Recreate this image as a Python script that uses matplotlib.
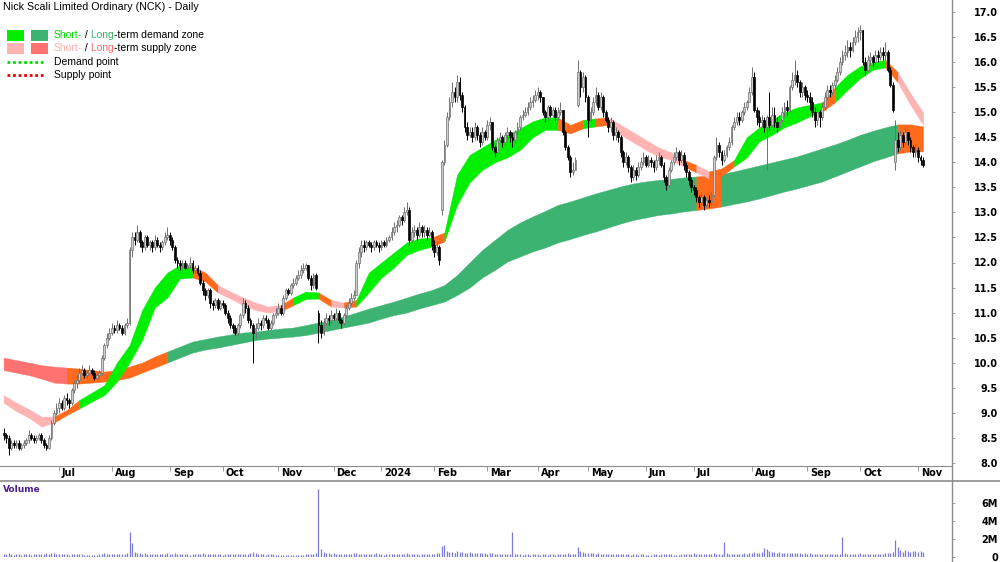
import matplotlib
matplotlib.use("Agg")
import matplotlib.pyplot as plt
from matplotlib.lines import Line2D
from matplotlib.patches import Rectangle
import numpy as np
import pandas as pd

plt.rcParams["font.family"] = ["Liberation Sans", "DejaVu Sans"]

W, H = 1000, 562

# ---- data ------------------------------------------------------------------
holidays = ["2023-06-12", "2023-12-25", "2023-12-26", "2024-01-01", "2024-01-26",
            "2024-03-29", "2024-04-01", "2024-04-25", "2024-06-10"]
dates = pd.bdate_range("2023-05-31", "2024-11-05", freq="C", holidays=holidays)

closes = [
    8.55, 8.5, 8.3, 8.4, 8.35, 8.4, 8.3, 8.35, 8.4, 8.45,
    8.55, 8.5, 8.45, 8.5, 8.55, 8.45, 8.35, 8.3, 8.5, 8.8,
    9.0, 9.1, 9.2, 9.1, 9.3, 9.25, 9.2, 9.45, 9.6, 9.65,
    9.8, 9.85, 9.75, 9.8, 9.85, 9.8, 9.7, 9.75, 9.8, 10.1,
    10.35, 10.5, 10.6, 10.7, 10.65, 10.75, 10.7, 10.6, 10.75, 10.8,
    12.25, 12.5, 12.45, 12.6, 12.4, 12.3, 12.5, 12.35, 12.4, 12.3,
    12.45, 12.35, 12.3, 12.4, 12.5, 12.55, 12.45, 12.3, 12.05, 12.0,
    11.95, 12.0, 11.9, 11.95, 12.0, 11.85, 11.9, 11.8, 11.6, 11.45,
    11.35, 11.45, 11.2, 11.15, 11.25, 11.1, 11.2, 11.15, 11.0, 10.9,
    10.75, 10.7, 10.6, 10.75, 10.95, 11.2, 11.1, 10.85, 10.75, 10.6,
    10.7, 10.8, 10.75, 10.9, 10.85, 10.7, 10.8, 10.95, 11.0, 11.1,
    11.0, 11.3, 11.45, 11.4, 11.55, 11.6, 11.7, 11.75, 11.85, 11.9,
    11.95, 11.7, 11.55, 11.75, 11.5, 10.75, 10.6, 10.8, 10.9, 10.85,
    10.95, 10.9, 11.0, 10.85, 10.8, 10.95, 11.1, 11.2, 11.3, 11.35,
    12.0, 12.2, 12.35, 12.3, 12.4, 12.35, 12.3, 12.4, 12.35, 12.3,
    12.4, 12.35, 12.45, 12.5, 12.6, 12.7, 12.75, 12.9, 12.85, 13.0,
    13.05, 12.45, 12.6, 12.65, 12.55, 12.7, 12.6, 12.65, 12.55, 12.6,
    12.35, 12.2, 12.3, 12.05, 14.0, 14.35, 14.9, 15.2, 15.4, 15.3,
    15.6, 15.35, 15.1, 14.7, 14.55, 14.6, 14.5, 14.7, 14.55, 14.4,
    14.6, 14.5, 14.75, 14.8, 14.3, 14.2, 14.45, 14.5, 14.4, 14.55,
    14.6, 14.5, 14.45, 14.6, 14.7, 14.9, 14.95, 15.0, 15.1, 15.2,
    15.25, 15.35, 15.4, 15.3, 15.0, 14.9, 15.1, 14.95, 15.05, 14.9,
    15.0, 15.05, 14.6, 14.3, 14.1, 13.8, 13.85, 14.05, 15.8, 15.5,
    15.7, 15.3, 14.85, 15.0, 15.2, 15.35, 15.1, 15.3, 15.0, 14.85,
    14.7, 14.8, 14.55, 14.6, 14.5, 14.2, 14.0, 14.1, 13.9, 13.7,
    13.85, 13.75, 13.9, 14.0, 14.1, 13.95, 14.05, 14.0, 13.9, 14.05,
    14.1, 13.95, 13.7, 13.55, 13.85, 14.0, 14.1, 14.2, 14.05, 14.15,
    13.95, 13.8, 13.65, 13.5, 13.45, 13.3, 13.2, 13.3, 13.15, 13.25,
    13.2, 13.35, 14.1, 14.35, 14.2, 14.05, 14.15, 14.3, 14.4, 14.7,
    14.8, 14.9, 14.85, 15.0, 15.1, 15.2, 15.4, 15.7, 15.05, 14.9,
    14.8, 14.85, 14.7, 14.9, 14.75, 14.95, 14.8, 14.7, 14.85, 15.0,
    15.1, 15.05, 15.5, 15.65, 15.75, 15.6, 15.4, 15.5, 15.35, 15.3,
    15.2, 15.0, 14.85, 15.0, 14.9, 15.1, 15.3, 15.45, 15.4, 15.55,
    15.65, 15.8, 16.0, 16.15, 16.2, 16.3, 16.25, 16.4, 16.5, 16.6,
    16.65, 16.0, 15.85, 16.05, 16.1, 16.0, 16.15, 16.1, 16.2, 16.15,
    16.2, 15.85, 15.55, 15.05, 14.45, 14.3, 14.55, 14.4, 14.6, 14.45,
    14.3, 14.2, 14.25, 14.1, 14.05, 13.95,
]

highs = [
    8.7, 8.6, 8.55, 8.45, 8.45, 8.45, 8.45, 8.4, 8.45, 8.5,
    8.65, 8.6, 8.55, 8.55, 8.6, 8.6, 8.5, 8.4, 8.55, 8.85,
    9.05, 9.2, 9.3, 9.25, 9.35, 9.4, 9.3, 9.5, 9.65, 9.75,
    9.9, 9.95, 9.9, 9.85, 9.95, 9.9, 9.85, 9.8, 9.85, 10.15,
    10.4, 10.6, 10.7, 10.8, 10.75, 10.85, 10.8, 10.75, 10.8, 10.9,
    12.3, 12.6, 12.6, 12.75, 12.65, 12.45, 12.55, 12.55, 12.45, 12.45,
    12.55, 12.5, 12.4, 12.45, 12.6, 12.7, 12.6, 12.5, 12.35, 12.1,
    12.05, 12.05, 12.05, 12.0, 12.1, 12.05, 11.95, 11.95, 11.85, 11.65,
    11.5, 11.5, 11.5, 11.25, 11.3, 11.3, 11.25, 11.25, 11.2, 11.05,
    10.95, 10.8, 10.75, 10.8, 11.0, 11.3, 11.25, 11.15, 10.9, 10.8,
    10.8, 10.9, 10.85, 10.95, 10.95, 10.9, 10.85, 11.0, 11.1, 11.2,
    11.15, 11.35, 11.5, 11.5, 11.6, 11.7, 11.75, 11.85, 11.95, 12.0,
    12.0, 11.95, 11.75, 11.8, 11.8, 11.05, 10.85, 10.9, 11.0, 10.95,
    11.05, 11.0, 11.1, 11.05, 10.9, 11.0, 11.15, 11.3, 11.4, 11.45,
    12.05, 12.3, 12.45, 12.45, 12.45, 12.45, 12.4, 12.45, 12.45, 12.4,
    12.45, 12.45, 12.5, 12.55, 12.7, 12.8, 12.85, 12.95, 12.95, 13.1,
    13.2, 13.1, 12.7, 12.75, 12.7, 12.8, 12.75, 12.75, 12.7, 12.7,
    12.65, 12.45, 12.4, 12.35, 14.05, 14.45, 15.0, 15.3, 15.6, 15.5,
    15.75, 15.7, 15.4, 15.15, 14.8, 14.7, 14.7, 14.8, 14.75, 14.6,
    14.7, 14.65, 14.85, 14.9, 14.8, 14.35, 14.5, 14.6, 14.55, 14.6,
    14.7, 14.65, 14.6, 14.65, 14.8, 14.95, 15.05, 15.1, 15.2, 15.3,
    15.35, 15.45, 15.5, 15.45, 15.3, 15.05, 15.15, 15.15, 15.1, 15.1,
    15.1, 15.2, 15.05, 14.65, 14.35, 14.15, 14.0, 14.1, 16.05, 15.85,
    15.8, 15.75, 15.35, 15.1, 15.3, 15.5, 15.4, 15.4, 15.35, 15.05,
    14.9, 14.9, 14.85, 14.7, 14.65, 14.55, 14.25, 14.2, 14.15, 13.95,
    13.95, 13.9, 14.0, 14.1, 14.2, 14.15, 14.15, 14.1, 14.05, 14.15,
    14.2, 14.15, 14.0, 13.75, 13.9, 14.05, 14.2, 14.3, 14.25, 14.25,
    14.2, 14.0, 13.85, 13.7, 13.55, 13.5, 13.35, 13.4, 13.35, 13.3,
    13.35, 13.4, 14.15, 14.5, 14.4, 14.25, 14.25, 14.35, 14.5, 14.75,
    14.9, 15.0, 15.0, 15.05, 15.2, 15.25, 15.5, 15.9, 15.8, 15.1,
    15.05, 14.95, 14.9, 14.95, 15.4, 15.1, 15.1, 14.9, 14.95, 15.1,
    15.2, 15.25, 15.55, 15.8, 16.05, 15.85, 15.65, 15.6, 15.55, 15.45,
    15.4, 15.3, 15.1, 15.1, 15.05, 15.2, 15.4, 15.55, 15.55, 15.6,
    15.75, 15.9, 16.1, 16.25, 16.35, 16.45, 16.4, 16.5, 16.65, 16.7,
    16.75, 16.65, 16.1, 16.15, 16.2, 16.15, 16.25, 16.25, 16.3, 16.3,
    16.4, 16.25, 15.9, 15.6, 14.85, 14.6, 14.65, 14.6, 14.7, 14.6,
    14.5, 14.35, 14.35, 14.3, 14.15, 14.1,
]

lows = [
    8.45, 8.4, 8.15, 8.25, 8.3, 8.3, 8.25, 8.25, 8.3, 8.35,
    8.4, 8.45, 8.4, 8.4, 8.45, 8.4, 8.3, 8.25, 8.28, 8.45,
    8.75, 8.95, 9.0, 9.05, 9.05, 9.15, 9.1, 9.15, 9.4, 9.5,
    9.6, 9.75, 9.7, 9.7, 9.75, 9.75, 9.65, 9.65, 9.7, 9.75,
    10.05, 10.3, 10.45, 10.55, 10.6, 10.6, 10.65, 10.55, 10.55, 10.7,
    10.75, 12.1, 12.35, 12.4, 12.3, 12.2, 12.25, 12.3, 12.25, 12.2,
    12.25, 12.3, 12.2, 12.25, 12.35, 12.45, 12.35, 12.25, 12.0, 11.9,
    11.85, 11.9, 11.85, 11.85, 11.9, 11.8, 11.8, 11.75, 11.55, 11.35,
    11.25, 11.3, 11.1, 11.05, 11.1, 11.05, 11.05, 11.1, 10.95, 10.8,
    10.7, 10.6, 10.55, 10.55, 10.7, 10.9, 11.0, 10.8, 10.7, 10.0,
    10.5, 10.65, 10.65, 10.7, 10.8, 10.65, 10.65, 10.75, 10.9, 10.95,
    10.95, 10.95, 11.25, 11.35, 11.35, 11.5, 11.55, 11.65, 11.7, 11.8,
    11.85, 11.65, 11.45, 11.5, 11.45, 10.4, 10.5, 10.55, 10.75, 10.75,
    10.8, 10.85, 10.85, 10.8, 10.7, 10.75, 10.9, 11.05, 11.15, 11.25,
    11.35, 11.9, 12.1, 12.2, 12.25, 12.3, 12.2, 12.25, 12.3, 12.2,
    12.25, 12.3, 12.3, 12.4, 12.45, 12.55, 12.6, 12.7, 12.75, 12.8,
    12.95, 12.35, 12.4, 12.5, 12.45, 12.5, 12.5, 12.5, 12.45, 12.5,
    12.25, 12.1, 12.15, 11.95, 12.95, 13.95, 14.3, 14.85, 15.1, 15.2,
    15.2, 15.25, 15.0, 14.6, 14.45, 14.5, 14.4, 14.45, 14.45, 14.3,
    14.35, 14.45, 14.45, 14.65, 14.25, 14.1, 14.15, 14.4, 14.3, 14.35,
    14.45, 14.4, 14.3, 14.4, 14.55, 14.65, 14.85, 14.9, 14.95, 15.05,
    15.1, 15.2, 15.25, 15.2, 14.95, 14.8, 14.85, 14.9, 14.9, 14.85,
    14.85, 14.95, 14.55, 14.25, 14.05, 13.7, 13.75, 13.85, 15.1, 15.3,
    15.4, 15.2, 14.5, 14.8, 14.95, 15.15, 15.05, 15.05, 14.9, 14.8,
    14.6, 14.6, 14.45, 14.45, 14.4, 14.1, 13.9, 13.95, 13.8, 13.6,
    13.65, 13.65, 13.7, 13.85, 13.95, 13.9, 13.9, 13.9, 13.8, 13.85,
    13.95, 13.9, 13.6, 13.45, 13.5, 13.8, 13.95, 14.05, 13.95, 14.0,
    13.85, 13.7, 13.55, 13.4, 13.35, 13.2, 13.1, 13.15, 13.05, 13.1,
    13.1, 13.15, 13.3, 14.05, 14.1, 13.95, 14.0, 14.1, 14.25, 14.35,
    14.65, 14.75, 14.75, 14.8, 14.95, 15.05, 15.2, 15.35, 15.0, 14.75,
    14.7, 14.7, 14.6, 13.85, 14.65, 14.7, 14.7, 14.6, 14.65, 14.8,
    14.9, 14.95, 15.0, 15.45, 15.55, 15.5, 15.3, 15.3, 15.25, 15.2,
    15.05, 14.9, 14.7, 14.75, 14.7, 14.85, 15.05, 15.25, 15.3, 15.35,
    15.45, 15.6, 15.75, 15.95, 16.05, 16.1, 16.1, 16.2, 16.35, 16.4,
    16.45, 15.95, 15.75, 15.8, 15.95, 15.9, 15.95, 16.0, 16.05, 16.05,
    16.05, 15.8, 15.5, 15.0, 13.85, 14.2, 14.25, 14.3, 14.35, 14.35,
    14.2, 14.1, 14.1, 14.0, 13.95, 13.9,
]

# opens follow the prior close except where the price gapped
gap_opens = {0: 8.6, 125: 11.0, 174: 13.05, 228: 15.15, 354: 14.0}

volumes_m = [
    0.35, 0.3, 0.45, 0.3, 0.25, 0.3, 0.35, 0.25, 0.3, 0.28,
    0.3, 0.25, 0.3, 0.35, 0.3, 0.28, 0.3, 0.4, 0.35, 0.45,
    0.4, 0.35, 0.3, 0.28, 0.35, 0.3, 0.25, 0.35, 0.3, 0.3,
    0.28, 0.3, 0.25, 0.22, 0.25, 0.2, 0.22, 0.25, 0.3, 0.35,
    0.4, 0.35, 0.3, 0.3, 0.28, 0.3, 0.35, 0.3, 0.35, 0.4,
    2.8, 1.55, 0.55, 0.45, 0.4, 0.35, 0.4, 0.35, 0.3, 0.35,
    0.3, 0.35, 0.3, 0.28, 0.35, 0.4, 0.3, 0.35, 0.4, 0.3,
    0.35, 0.3, 0.28, 0.3, 0.25, 0.3, 0.35, 0.3, 0.35, 0.4,
    0.35, 0.3, 0.35, 0.3, 0.28, 0.3, 0.3, 0.25, 0.3, 0.35,
    0.3, 0.35, 0.3, 0.28, 0.3, 0.35, 0.3, 0.35, 0.4, 0.6,
    0.4, 0.3, 0.28, 0.3, 0.25, 0.3, 0.28, 0.3, 0.25, 0.2,
    0.22, 0.2, 0.18, 0.2, 0.22, 0.2, 0.18, 0.2, 0.22, 0.25,
    0.3, 0.28, 0.3, 0.35, 0.4, 7.55, 0.9, 0.55, 0.45, 0.4,
    0.35, 0.4, 0.35, 0.3, 0.35, 0.3, 0.32, 0.35, 0.3, 0.4,
    0.45, 0.35, 0.3, 0.35, 0.3, 0.28, 0.3, 0.35, 0.45, 0.3,
    0.3, 0.25, 0.3, 0.28, 0.3, 0.35, 0.3, 0.28, 0.3, 0.35,
    0.4, 0.35, 0.3, 0.28, 0.3, 0.25, 0.3, 0.28, 0.3, 0.35,
    0.3, 0.35, 0.4, 0.45, 1.2, 1.3, 0.7, 0.55, 0.6, 0.5,
    0.65, 0.55, 0.6, 0.5, 0.45, 0.55, 0.5, 0.45, 0.5, 0.4,
    0.45, 0.4, 0.35, 0.4, 0.45, 0.35, 0.3, 0.35, 0.3, 0.28,
    0.3, 0.35, 2.8, 0.35, 0.3, 0.28, 0.25, 0.3, 0.28, 0.25,
    0.3, 0.28, 0.3, 0.25, 0.28, 0.3, 0.25, 0.28, 0.3, 0.25,
    0.3, 0.28, 0.35, 0.3, 0.4, 0.35, 0.3, 0.35, 1.15, 0.7,
    0.55, 0.5, 0.45, 0.4, 0.45, 0.35, 0.4, 0.35, 0.3, 0.35,
    0.3, 0.35, 0.3, 0.28, 0.3, 0.35, 0.3, 0.28, 0.3, 0.25,
    0.28, 0.3, 0.25, 0.28, 0.3, 0.25, 0.22, 0.25, 0.28, 0.3,
    0.25, 0.28, 0.3, 0.35, 0.3, 0.28, 0.25, 0.22, 0.25, 0.28,
    0.3, 0.28, 0.35, 0.3, 0.5, 0.35, 0.3, 0.28, 0.3, 0.35,
    0.3, 0.35, 0.4, 0.35, 0.3, 0.35, 1.67, 0.4, 0.35, 0.3,
    0.35, 0.3, 0.3, 0.35, 0.4, 0.35, 0.45, 0.5, 0.55, 0.45,
    0.5, 0.6, 1.0, 0.85, 0.7, 0.6, 0.55, 0.5, 0.55, 0.5,
    0.45, 0.5, 0.4, 0.45, 0.5, 0.45, 0.4, 0.35, 0.4, 0.35,
    0.4, 0.35, 0.3, 0.35, 0.3, 0.35, 0.3, 0.35, 0.3, 0.28,
    0.3, 0.35, 0.3, 2.2, 0.4, 0.35, 0.3, 0.35, 0.3, 0.35,
    0.4, 0.35, 0.3, 0.35, 0.3, 0.28, 0.3, 0.35, 0.3, 0.35,
    0.4, 0.45, 0.5, 0.6, 1.85, 1.15, 0.8, 0.6, 0.75, 0.65,
    0.6, 0.7, 0.65, 0.6, 0.65, 0.55,
]

# zone edges, sampled every 5th trading day
zone_idx = list(range(0, 366, 5))

long_upper = [
    10.1, 10.05, 10.0, 9.95, 9.92, 9.9, 9.88, 9.85, 9.82, 9.85,
    9.92, 10.0, 10.12, 10.22, 10.32, 10.42, 10.47, 10.52, 10.56, 10.6,
    10.62, 10.65, 10.68, 10.7, 10.75, 10.8, 10.85, 10.92, 11.0, 11.08,
    11.15, 11.22, 11.3, 11.38, 11.45, 11.55, 11.75, 12.0, 12.25, 12.45,
    12.65, 12.8, 12.92, 13.03, 13.15, 13.22, 13.3, 13.38, 13.45, 13.52,
    13.58, 13.62, 13.65, 13.67, 13.7, 13.72, 13.74, 13.77, 13.82, 13.88,
    13.94, 14.0, 14.06, 14.12, 14.2, 14.28, 14.36, 14.45, 14.55, 14.63,
    14.7, 14.76, 14.76, 14.72,
]
long_lower = [
    9.85, 9.8, 9.75, 9.68, 9.6, 9.58, 9.58, 9.6, 9.62, 9.65,
    9.7, 9.8, 9.9, 10.0, 10.1, 10.2, 10.26, 10.3, 10.35, 10.4,
    10.45, 10.48, 10.5, 10.52, 10.55, 10.6, 10.65, 10.7, 10.75, 10.8,
    10.88, 10.95, 11.0, 11.08, 11.15, 11.22, 11.35, 11.5, 11.7, 11.85,
    12.02, 12.12, 12.22, 12.3, 12.4, 12.47, 12.55, 12.62, 12.7, 12.78,
    12.85, 12.9, 12.95, 12.98, 13.02, 13.05, 13.08, 13.12, 13.17, 13.22,
    13.28, 13.35, 13.42, 13.48, 13.55, 13.62, 13.72, 13.82, 13.92, 14.02,
    14.1, 14.18, 14.22, 14.22,
]
short_upper = [
    9.35, 9.2, 9.07, 8.92, 8.92, 9.05, 9.25, 9.4, 9.55, 10.0,
    10.35, 11.05, 11.5, 11.8, 11.95, 11.92, 11.8, 11.55, 11.42, 11.3,
    11.2, 11.12, 11.15, 11.3, 11.42, 11.4, 11.25, 11.2, 11.25, 11.8,
    12.0, 12.2, 12.4, 12.48, 12.5, 12.6, 13.75, 14.15, 14.3, 14.45,
    14.55, 14.68, 14.82, 14.9, 14.9, 14.75, 14.85, 14.88, 14.9, 14.75,
    14.6, 14.45, 14.3, 14.2, 14.05, 13.95, 13.82, 13.88, 14.05, 14.5,
    14.7, 14.85, 15.0, 15.1, 15.15, 15.2, 15.5, 15.75, 15.92, 16.0,
    16.05, 15.8, 15.38, 15.0,
]
short_lower = [
    9.2, 9.03, 8.9, 8.72, 8.8, 8.95, 9.08, 9.22, 9.35, 9.62,
    10.0, 10.45, 11.1, 11.3, 11.68, 11.7, 11.62, 11.4, 11.28, 11.15,
    11.05, 11.0, 11.02, 11.15, 11.27, 11.28, 11.12, 11.1, 11.12, 11.4,
    11.7, 11.9, 12.15, 12.25, 12.32, 12.42, 13.15, 13.6, 13.85, 14.0,
    14.1, 14.25, 14.5, 14.65, 14.65, 14.58, 14.68, 14.72, 14.75, 14.55,
    14.4, 14.25, 14.12, 14.05, 13.92, 13.8, 13.68, 13.73, 13.92, 14.1,
    14.42, 14.55, 14.7, 14.8, 14.92, 15.02, 15.2, 15.45, 15.68, 15.85,
    15.9, 15.6, 15.15, 14.75,
]
# zone state between consecutive samples: D demand, S supply, O price inside
short_state = ("SSSS" "OO" "DDDDDDDDD" "OO" "SSSSS" "O" "DD" "O" "S" "O"
               "DDDDDD" "O" "DDDDDDDDD" "OO" "D" "O" "SSSSSS" "O" "S" "OO"
               "DDDDDDD" "O" "DDDD" "O" "SS")
long_state = "SSSSS" + "O" * 8 + "D" * 42 + "OO" + "D" * 14 + "OO"

# ---- styling ---------------------------------------------------------------
SHORT_COLORS = {"D": "#00f000", "S": "#ffb3b3", "O": "#ff6a1c"}
LONG_COLORS = {"D": "#3cb371", "S": "#ff7272", "O": "#ff6a1c"}
AXIS_GREY = "#8c8c8c"
TICK_FONT = dict(family="DejaVu Sans", fontweight="bold", fontsize=7)


def draw_zone(ax, xs, upper, lower, states, colors):
    xs, upper, lower = map(np.asarray, (xs, upper, lower))
    start = 0
    for k in range(1, len(states) + 1):
        if k == len(states) or states[k] != states[start]:
            sl = slice(start, k + 1)
            c = colors[states[start]]
            ax.fill_between(xs[sl], lower[sl], upper[sl], facecolor=c,
                            edgecolor=c, linewidth=0.3, zorder=1)
            start = k


def px_x(v):
    return v / W


def px_y(v):
    return 1 - v / H


closes = np.array(closes)
highs = np.array(highs)
lows = np.array(lows)
n = len(closes)
x = np.arange(n)
opens = np.r_[closes[0], closes[:-1]]
for i, v in gap_opens.items():
    opens[i] = v

fig = plt.figure(figsize=(W / 100, H / 100), dpi=100)
ax = fig.add_axes([0, px_y(466), 0.952, 466 / H])
axv = fig.add_axes([0, px_y(557), 0.952, 75 / H])

x_lo = -3.6 / 2.519
x_hi = (952 - 3.6) / 2.519
for a in (ax, axv):
    a.set_xlim(x_lo, x_hi)
    for side in ("top", "left", "right", "bottom"):
        a.spines[side].set_visible(False)
ax.spines["bottom"].set_visible(True)
ax.spines["bottom"].set_color(AXIS_GREY)
ax.set_ylim(17 - (466 - 12.3) / 50.04, 17 + 12.3 / 50.04)

# zones
draw_zone(ax, zone_idx, long_upper, long_lower, long_state, LONG_COLORS)
draw_zone(ax, zone_idx, short_upper, short_lower, short_state, SHORT_COLORS)

# candles
up = closes >= opens
body_lo = np.minimum(opens, closes)
body_h = np.maximum(np.abs(closes - opens), 0.02)
ax.vlines(x[up], lows[up], highs[up], color="#707070", lw=0.7, zorder=3)
ax.vlines(x[~up], lows[~up], highs[~up], color="black", lw=0.7, zorder=3)
ax.bar(x[up], body_h[up], bottom=body_lo[up], width=0.72, color="#cfcfcf",
       edgecolor="#707070", linewidth=0.5, zorder=4)
ax.bar(x[~up], body_h[~up], bottom=body_lo[~up], width=0.72, color="black",
       edgecolor="black", linewidth=0.5, zorder=4)

# price axis on the right
price_ticks = [8.0 + 0.5 * k for k in range(19)]
ax.yaxis.tick_right()
ax.set_yticks(price_ticks, [f"{t:.1f}" for t in price_ticks],
              horizontalalignment="right", **TICK_FONT)
ax.tick_params(axis="y", direction="out", length=2.2, width=0.6,
               color=AXIS_GREY, pad=31)

# month ticks and labels (the partial first month carries no label)
dates = dates[:n]
months = dates.to_period("M")
first_of_month = [i for i in range(10, n) if months[i] != months[i - 1]]
ax.set_xticks(first_of_month)
ax.tick_params(axis="x", direction="out", length=3.5, width=0.6,
               color=AXIS_GREY, labelbottom=False)
for i in first_of_month:
    d = dates[i]
    lab = str(d.year) if d.month == 1 else d.strftime("%b")
    ax.annotate(lab, xy=(i, 0), xycoords=("data", "axes fraction"),
                xytext=(3, -7.5), textcoords="offset pixels", ha="left",
                va="center", annotation_clip=False, **TICK_FONT)

# volume panel
vol = np.array(volumes_m) * 1e6
axv.vlines(x, 0, vol, color="#7a7ad8", lw=0.9)
axv.set_ylim(0, 6e6 * 75 / 54)
axv.set_xticks([])
axv.yaxis.tick_right()
axv.set_yticks([0, 2e6, 4e6, 6e6], ["0", "2M", "4M", "6M"],
               horizontalalignment="right", **TICK_FONT)
axv.tick_params(axis="y", direction="out", length=2.2, width=0.6,
                color=AXIS_GREY, pad=31)
fig.text(px_x(3), px_y(489), "Volume", color="#4b1e8c", va="center",
         family="DejaVu Sans", fontweight="bold", fontsize=6.5)

# frame lines
fig.add_artist(Line2D([0, 1], [px_y(481)] * 2, color=AXIS_GREY, lw=1.2))
fig.add_artist(Line2D([0.952, 0.952], [0, 1], color=AXIS_GREY, lw=1.0))

# title and legend
fig.text(px_x(3), px_y(7), "Nick Scali Limited Ordinary (NCK) - Daily",
         va="center", fontsize=7.7)

renderer = fig.canvas.get_renderer()


def rich_text(x0, y0, pieces):
    xpos = x0
    for s, c in pieces:
        t = fig.text(px_x(xpos), px_y(y0), s, color=c, va="center", fontsize=7.5)
        xpos = t.get_window_extent(renderer).x1


legend_rows = [
    (35, SHORT_COLORS["D"], LONG_COLORS["D"],
     [("Short-", "#00dd00"), (" /", "black"), (" Long", "#3cb371"),
      ("-term demand zone", "black")]),
    (48, SHORT_COLORS["S"], LONG_COLORS["S"],
     [("Short-", "#ffb0b0"), (" /", "black"), (" Long", "#ff6b6b"),
      ("-term supply zone", "black")]),
]
for yc, c1, c2, pieces in legend_rows:
    for x0, c in ((7, c1), (31, c2)):
        fig.add_artist(Rectangle((px_x(x0), px_y(yc + 5.5)), 17 / W, 11 / H,
                                 facecolor=c, edgecolor="none"))
    rich_text(54, yc, pieces)

for yc, c, label in ((62, "#00dd00", "Demand point"), (75, "#ee0000", "Supply point")):
    fig.add_artist(Line2D([px_x(7), px_x(44)], [px_y(yc)] * 2, color=c, lw=2,
                          linestyle=(0, (1, 1))))
    fig.text(px_x(54), px_y(yc), label, va="center", fontsize=7.5)

fig.savefig("out.png", dpi=100)
